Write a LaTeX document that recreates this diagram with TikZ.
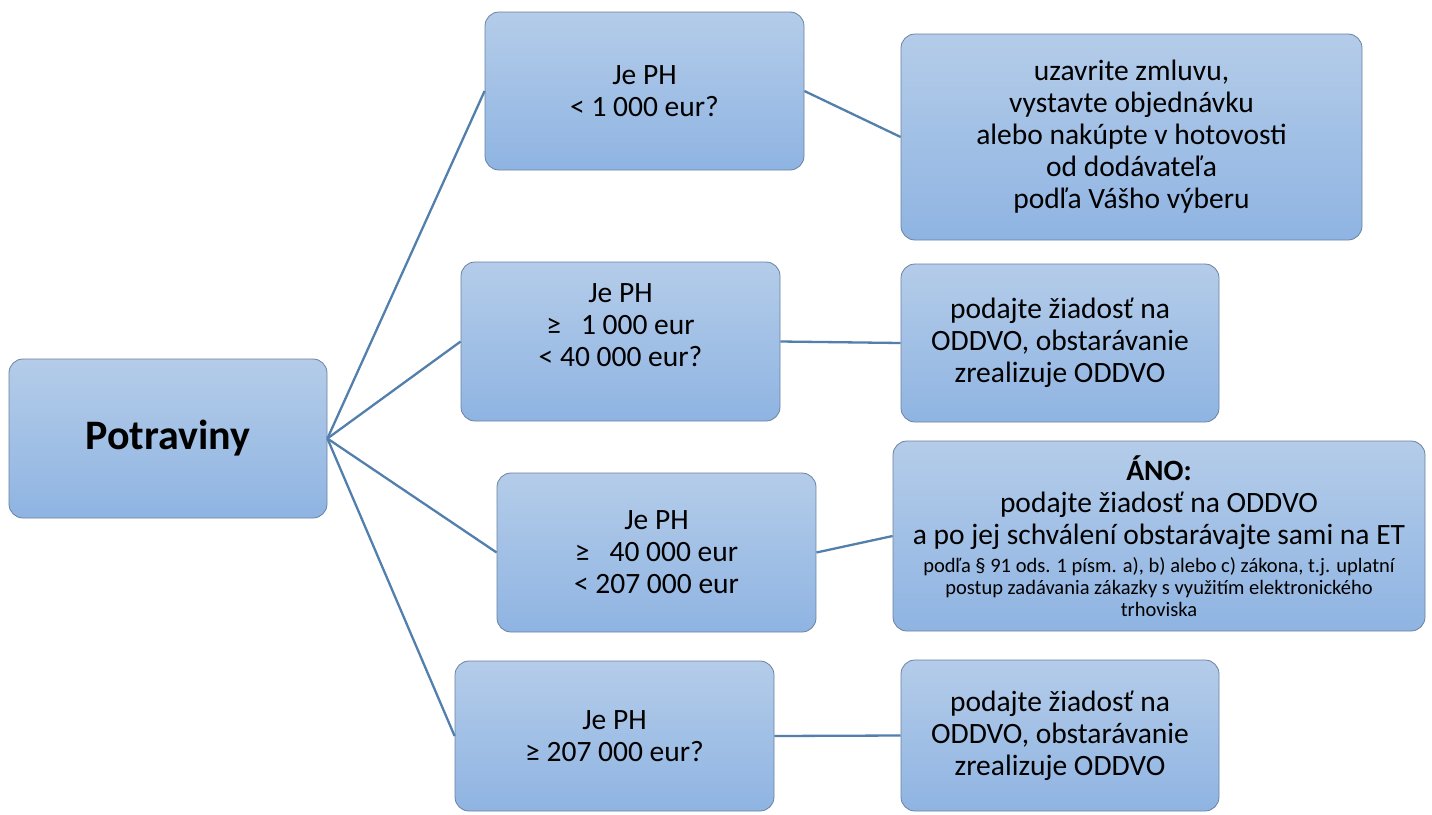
\documentclass[tikz,border=0pt]{standalone}
\usepackage{fontspec}
\setmainfont{Carlito}
\definecolor{boxtop}{RGB}{180,204,233}
\definecolor{boxbot}{RGB}{143,180,226}
\definecolor{boxline}{RGB}{105,130,160}
\definecolor{connc}{RGB}{82,127,172}
\newcommand{\smalltxt}{\fontsize{20.5}{22}\selectfont}
\begin{document}
\begin{tikzpicture}[x=1pt,y=-1pt,
  box/.style={rectangle, rounded corners=14pt, draw=boxline, line width=0.8pt,
    top color=boxtop, bottom color=boxbot, align=center, inner sep=4pt,
    font=\fontsize{29.5}{32}\selectfont, text=black},
  conn/.style={draw=connc, line width=2.3pt}]
\useasboundingbox (0,0) rectangle (1432,814);

\node[box, minimum width=318pt, minimum height=159pt, font=\bfseries\fontsize{42}{48}\selectfont] (p) at (168,438.5) {Potraviny};

\node[box, minimum width=319pt, minimum height=158pt] (b1) at (644.5,91) {Je PH\\< 1 000 eur?};
\node[box, minimum width=461pt, minimum height=206pt] (r1) at (1131.5,137) {uzavrite zmluvu,\\vystavte objednávku\\alebo nakúpte v hotovosti\\od dodávateľa\\podľa Vášho výberu};

\node[box, minimum width=319pt, minimum height=159pt] (b2) at (620.5,341.5) {Je PH\\≥\ \ \ 1 000 eur\\< 40 000 eur?\\ \mbox{}};
\node[box, minimum width=318pt, minimum height=158pt] (r2) at (1060,343) {podajte žiadosť na\\ODDVO, obstarávanie\\zrealizuje ODDVO};

\node[box, minimum width=319pt, minimum height=159pt] (b3) at (656.5,552.5) {Je PH\\≥\ \ \ 40 000 eur\\< 207 000 eur};
\node[box, minimum width=532pt, minimum height=190pt] (r3) at (1159,536) {\textbf{ÁNO:}\\podajte žiadosť na ODDVO\\a po jej schválení obstarávajte sami na ET\\[-4pt]{\smalltxt podľa § 91 ods. 1 písm. a), b) alebo c) zákona, t.j. uplatní}\\[-10pt]{\smalltxt postup zadávania zákazky s využitím elektronického}\\[-10pt]{\smalltxt trhoviska}};

\node[box, minimum width=319pt, minimum height=150pt] (b4) at (614.5,736) {Je PH\\≥ 207 000 eur?};
\node[box, minimum width=318pt, minimum height=151pt] (r4) at (1060,735.5) {podajte žiadosť na\\ODDVO, obstarávanie\\zrealizuje ODDVO};

\draw[conn] (p.east) -- (b1.west);
\draw[conn] (p.east) -- (b2.west);
\draw[conn] (p.east) -- (b3.west);
\draw[conn] (p.east) -- (b4.west);
\draw[conn] (b1.east) -- (r1.west);
\draw[conn] (b2.east) -- (r2.west);
\draw[conn] (b3.east) -- (r3.west);
\draw[conn] (b4.east) -- (r4.west);
\end{tikzpicture}
\end{document}
